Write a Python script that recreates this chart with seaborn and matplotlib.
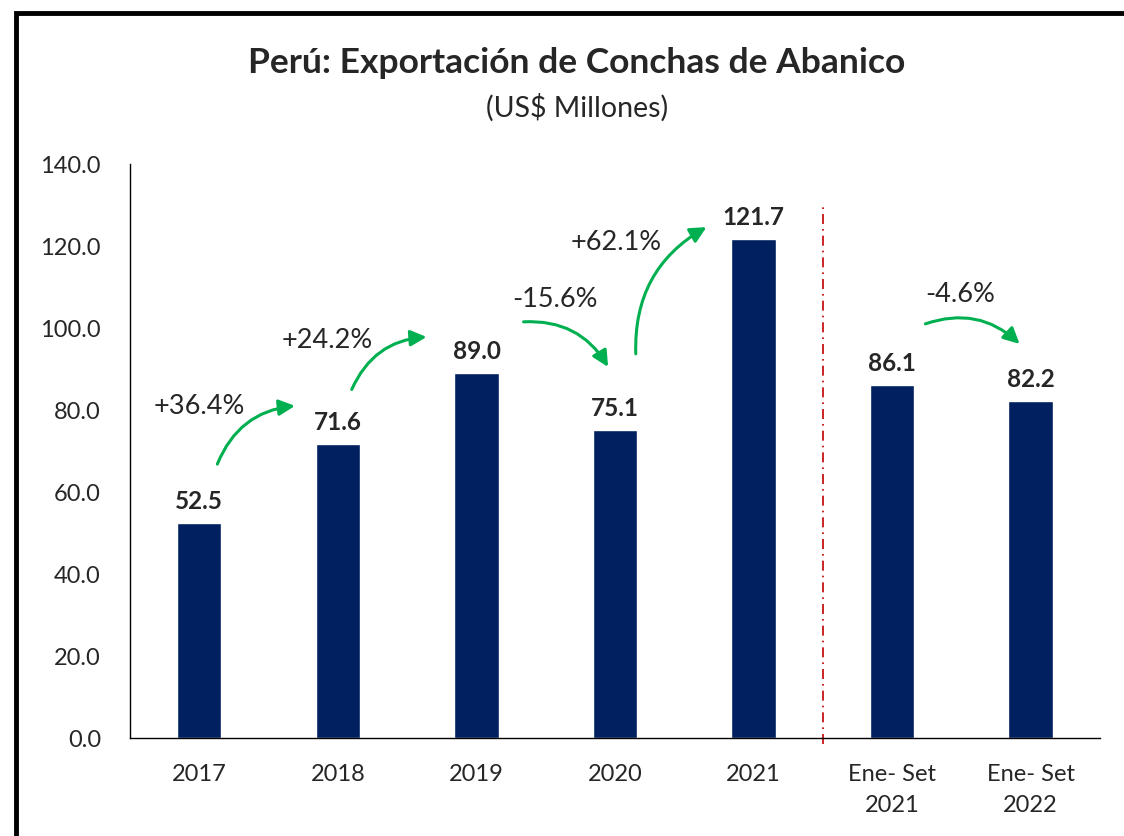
import pandas as pd
import numpy as np
import matplotlib
matplotlib.use('Agg')
import matplotlib.pyplot as plt
import seaborn as sns
from matplotlib.patches import Rectangle

categorias = ['2017', '2018', '2019', '2020', '2021', 'Ene- Set\n2021', 'Ene- Set\n2022']
valores = [52.5, 71.6, 89.0, 75.1, 121.7, 86.1, 82.2]
variaciones = ['+36.4%', '+24.2%', '-15.6%', '+62.1%', '-4.6%']

sns.set_style('white')
plt.rcParams['font.family'] = ['Lato', 'DejaVu Sans']

df = pd.DataFrame({'cat': categorias, 'val': valores})

fig = plt.figure(figsize=(11.24, 8.37), dpi=100)
ax = fig.add_axes([0.1157, 0.1171, 0.8629, 0.6858])
sns.barplot(data=df, x='cat', y='val', color='#002060', width=0.32, saturation=1, ax=ax)

ax.set_xlim(-0.5, 6.5)
ax.set_ylim(0, 140)
ax.set_yticks(np.arange(0, 141, 20))
ax.set_yticklabels([f'{v:.1f}' for v in np.arange(0, 141, 20)], fontsize=17)
ax.tick_params(axis='x', labelsize=17, length=0, pad=18)
ax.tick_params(axis='y', length=0, pad=21)
for lbl in ax.get_xticklabels():
    lbl.set_linespacing(1.6)
ax.set_xlabel('')
ax.set_ylabel('')
for s in ['top', 'right']:
    ax.spines[s].set_visible(False)
for s in ['left', 'bottom']:
    ax.spines[s].set_color('black')
    ax.spines[s].set_linewidth(1)

# etiquetas de valores
for i, v in enumerate(valores):
    ax.annotate(f'{v:.1f}', (i, v), xytext=(0, 8), textcoords='offset points',
                ha='center', va='bottom', fontsize=17.5, fontweight='bold')

# linea separadora
ax.plot([4.5, 4.5], [-1.5, 130], color='#C00000', lw=1.2, ls=(0, (6, 3, 1, 3)), clip_on=False)

# flechas de variacion
flechas = [((0.13, 66.8), (0.69, 81.0)),
           ((1.10, 85.0), (1.64, 97.8)),
           ((2.34, 101.5), (2.95, 90.5)),
           ((3.15, 93.7), (3.66, 124.6)),
           ((5.24, 101.0), (5.92, 96.1))]
pos_txt = [(0.0, 81.2), (0.92, 97.3), (2.57, 107.1), (3.01, 121.0), (5.49, 108.3)]
for (a, b), t, txt in zip(flechas, pos_txt, variaciones):
    ax.annotate('', xy=b, xytext=a,
                arrowprops=dict(arrowstyle='-|>', color='#00B050', lw=2.2,
                                mutation_scale=24, shrinkA=0, shrinkB=0,
                                connectionstyle='arc3,rad=-0.3'))
    ax.text(t[0], t[1], txt, ha='center', va='center', fontsize=19.5)

fig.text(0.513, 0.925, 'Perú: Exportación de Conchas de Abanico', ha='center', va='center',
         fontsize=25.5, fontweight='bold')
fig.text(0.513, 0.872, '(US$ Millones)', ha='center', va='center', fontsize=20.5)

fig.add_artist(Rectangle((0.0142, -0.1), 1.2, 0.9833 + 0.1, transform=fig.transFigure,
                         fill=False, edgecolor='black', lw=3.5))

fig.savefig('out.png', dpi=100)
